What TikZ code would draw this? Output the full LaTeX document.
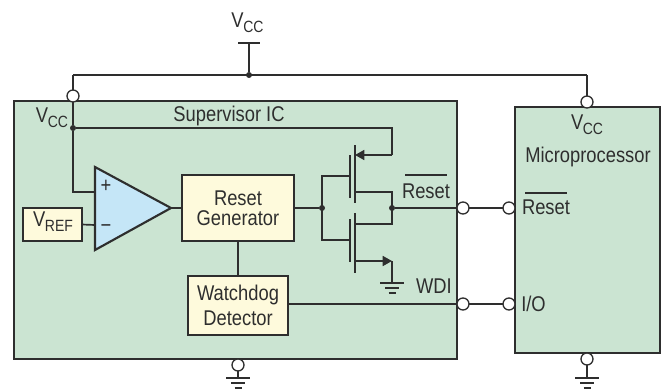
\documentclass[tikz,border=0pt]{standalone}
\usepackage{fontspec}
\setmainfont[FakeStretch=0.86]{Liberation Sans}
\usetikzlibrary{arrows.meta}
\definecolor{ink}{HTML}{2E2E2E}
\definecolor{chipgreen}{HTML}{CBE4D2}
\definecolor{boxyellow}{HTML}{FEFADC}
\definecolor{ampblue}{HTML}{C5E6F7}
\newcommand{\vsubs}[1]{V\kern-0.02em\raisebox{-3.8pt}{\fontsize{12.2pt}{13pt}\selectfont #1}}
\tikzset{
  x=0.75pt,y=-0.75pt,
  every node/.style={text=ink,inner sep=0pt,outer sep=0pt,font=\fontsize{16pt}{15pt}\selectfont},
  chip/.style={draw=ink,fill=chipgreen,line width=1.5pt,rectangle},
  ybox/.style={draw=ink,fill=boxyellow,line width=1.6pt,rectangle,align=center},
  wire/.style={draw=ink,line width=1.25pt},
  pin/.style={circle,draw=ink,fill=white,line width=1pt,minimum size=12*0.75pt},
  junction/.style={circle,fill=ink,minimum size=6*0.75pt},
  lbl/.style={anchor=base},
  tip/.style={-{Triangle[length=7pt,width=7.5pt]}},
  gndsym/.pic={
    \draw[wire] (-12,0) -- (12,0);
    \draw[wire] (-7,5) -- (7,5);
    \draw[wire] (-3.5,10) -- (3.5,10);
  }
}
\begin{document}
\begin{tikzpicture}
\useasboundingbox (0,0) rectangle (663,389);
% blocks
\node[chip,minimum width=443*0.75pt,minimum height=258*0.75pt] (ic) at (235.5,230) {};
\node[chip,minimum width=145*0.75pt,minimum height=246*0.75pt] (mcu) at (587.5,230) {};
\node[ybox,minimum width=112*0.75pt,minimum height=66*0.75pt] (rg) at (238,208) {Reset\\Generator};
\node[ybox,minimum width=100*0.75pt,minimum height=59*0.75pt] (wd) at (238,305.5) {Watchdog\\[3.5pt]Detector};
\node[ybox,minimum width=59*0.75pt,minimum height=33*0.75pt] (vref) at (52.5,224.5) {};
% coordinates
\coordinate (bar) at (249,43);
\coordinate (barL) at (238,43);
\coordinate (barR) at (260,43);
\coordinate (railL) at (73,75);
\coordinate (railR) at (587,75);
\coordinate (ampA) at (95,167);
\coordinate (ampB) at (95,250);
\coordinate (ampC) at (171,208);
\coordinate (ampP) at (95,192);
\coordinate (ampM) at (95,225);
\coordinate (turn) at (73,192);
\coordinate (corner) at (392,128);
\coordinate (pgate) at (350,176);
\coordinate (ngate) at (350,240);
\coordinate (psrc) at (355,155);
\coordinate (psrcR) at (392,155);
\coordinate (pdr) at (355,192);
\coordinate (pdrR) at (392,192);
\coordinate (ndr) at (355,224);
\coordinate (ndrR) at (392,224);
\coordinate (nsrc) at (355,261);
\coordinate (nsrcR) at (392,261);
\coordinate (nsrcG) at (392,283);
\coordinate (gateU) at (322,176);
\coordinate (gateD) at (322,240);
\coordinate (icgndB) at (238,378);
\coordinate (mcgndB) at (587,378);
% amp
\draw[draw=ink,fill=ampblue,line width=1.6pt,line join=miter] (ampA) -- (ampB) -- (ampC) -- cycle;
% dots
\node[junction] (jtop) at (249,75) {};
\node[junction] (jv) at (73,128) {};
\node[junction] (jg) at (322,208) {};
\node[junction] (jd) at (392,208) {};
% wires
\draw[wire] (barL) -- (barR);
\draw[wire] (bar) -- (jtop);
\draw[wire] (railL) -- (railR);
\draw[wire] (railL) -- (jv);
\draw[wire] (jv) -- (turn) -- (ampP);
\draw[wire] (jv) -- (corner) -- (psrcR);
\draw[wire] (vref.east) -- (ampM);
\draw[wire] (ampC) -- (rg.west);
\draw[wire] (rg.east) -- (jg);
\draw[wire] (rg.south) -- (wd.north);
% transistors
\draw[wire] (355,145) -- (355,203);
\draw[wire] (350,155) -- (350,198);
\draw[wire] (355,213) -- (355,273);
\draw[wire] (350,219) -- (350,262);
\draw[wire] (pgate) -- (gateU) -- (gateD) -- (ngate);
\draw[wire] (pdr) -- (pdrR) -- (ndrR) -- (ndr);
\draw[wire,tip] (psrcR) -- (psrc);
\draw[wire,tip] (nsrc) -- (nsrcR);
\draw[wire] (nsrcR) -- (nsrcG);
\pic at (nsrcG) {gndsym};
% pins
\node[pin] (pv) at (73,96) {};
\node[pin] (pm) at (587,102) {};
\node[pin] (pr1) at (463,208) {};
\node[pin] (pr2) at (509,208) {};
\node[pin] (pw1) at (463,304) {};
\node[pin] (pw2) at (509,304) {};
\node[pin] (pg1) at (238,365) {};
\node[pin] (pg2) at (587,359) {};
\draw[wire] (railR) -- (pm.north);
\draw[wire] (jd) -- (pr1.west);
\draw[wire] (pr1) -- (pr2);
\draw[wire] (wd.east |- pw1) -- (pw1.west);
\draw[wire] (pw1) -- (pw2);
\draw[wire] (pg1.south) -- (icgndB);
\draw[wire] (pg2.south) -- (mcgndB);
\pic at (icgndB) {gndsym};
\pic at (mcgndB) {gndsym};
% amp signs
\node (plus) at (106,186) {+};
\node (minus) at (106,229) {\symbol{"2212}};
% labels
\node[lbl] (tvcc) at (247.5,27) {\vsubs{CC}};
\node[lbl] (ivcc) at (52,122) {\vsubs{CC}};
\node[lbl] (tsup) at (229,121) {Supervisor IC};
\node[lbl] (tref) at (53,226) {\vsubs{REF}};
\node[lbl] (mvcc) at (587,129) {\vsubs{CC}};
\node[lbl] (tmic) at (588,162) {Microprocessor};
\node[lbl] (trs1) at (426,198) {Reset};
\node[lbl] (trs2) at (546,214) {Reset};
\node[lbl] (twdi) at (434,293) {WDI};
\node[lbl] (tio) at (533.5,311) {I/O};
\draw[wire] (405,175) -- (447,175);
\draw[wire] (525,193) -- (567,193);
\end{tikzpicture}
\end{document}
